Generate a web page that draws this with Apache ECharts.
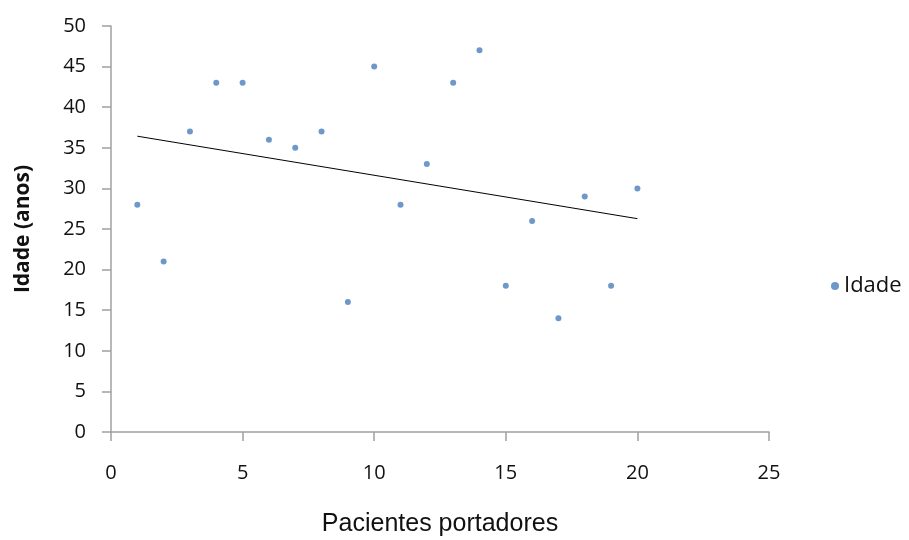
<!DOCTYPE html>
<html>
<head>
<meta charset="utf-8">
<script src="https://cdn.jsdelivr.net/npm/echarts@6/dist/echarts.min.js"></script>
<style>
html, body { margin: 0; padding: 0; background: #fff; }
#main { width: 909px; height: 540px; }
</style>
</head>
<body>
<div id="main"></div>
<script>
// dados
var pacientes = [1, 2, 3, 4, 5, 6, 7, 8, 9, 10, 11, 12, 13, 14, 15, 16, 17, 18, 19, 20];
var idade = [28, 21, 37, 43, 43, 36, 35, 37, 16, 45, 28, 33, 43, 47, 18, 26, 14, 29, 18, 30];

// linha de tendencia (minimos quadrados)
var n = pacientes.length, sx = 0, sy = 0, sxy = 0, sxx = 0;
for (var i = 0; i < n; i++) {
    sx += pacientes[i]; sy += idade[i];
    sxy += pacientes[i] * idade[i]; sxx += pacientes[i] * pacientes[i];
}
var b = (n * sxy - sx * sy) / (n * sxx - sx * sx);
var a = (sy - b * sx) / n;
var x0 = pacientes[0], x1 = pacientes[n - 1];

var pontos = pacientes.map(function (x, i) { return [x, idade[i]]; });

var myChart = echarts.init(document.getElementById('main'));
var option = {
    animation: false,
    textStyle: { fontFamily: 'Open Sans' },
    grid: { left: 111, right: 140, top: 26, bottom: 108, outerBoundsMode: 'none', containLabel: false },
    legend: {
        data: ['Idade'],
        orient: 'vertical',
        left: 826,
        top: 270,
        itemWidth: 8,
        itemHeight: 8,
        itemGap: 6,
        textStyle: { fontSize: 22, color: '#111', fontFamily: 'Open Sans' }
    },
    xAxis: {
        type: 'value',
        min: 0, max: 25, interval: 5,
        name: 'Pacientes portadores',
        nameLocation: 'middle',
        nameGap: 80,
        nameTextStyle: { fontSize: 25, color: '#111', fontFamily: 'Liberation Sans' },
        axisLine: { lineStyle: { color: '#a0a0a0', width: 1.5 } },
        axisTick: { show: true, length: 9, lineStyle: { color: '#a0a0a0', width: 1.5 } },
        axisLabel: { fontSize: 20, color: '#111', margin: 31 },
        splitLine: { show: false }
    },
    yAxis: {
        type: 'value',
        min: 0, max: 50, interval: 5,
        name: 'Idade (anos)',
        nameLocation: 'middle',
        nameGap: 77,
        nameTextStyle: { fontSize: 21, fontWeight: 'bold', color: '#111' },
        axisLine: { show: true, lineStyle: { color: '#a0a0a0', width: 1.5 } },
        axisTick: { show: true, length: 9, lineStyle: { color: '#a0a0a0', width: 1.5 } },
        axisLabel: { fontSize: 20, color: '#111', margin: 25 },
        splitLine: { show: false }
    },
    series: [
        {
            name: 'Idade',
            type: 'scatter',
            symbolSize: 6,
            itemStyle: { color: '#4a7ebb' },
            data: pontos
        },
        {
            name: 'Tendência',
            type: 'line',
            symbol: 'none',
            silent: true,
            lineStyle: { color: '#000', width: 1 },
            data: [[x0, a + b * x0], [x1, a + b * x1]]
        }
    ]
};
myChart.setOption(option);
</script>
</body>
</html>
